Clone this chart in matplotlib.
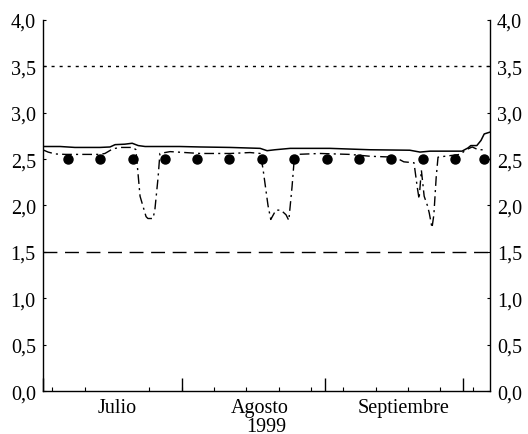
import matplotlib
matplotlib.use("Agg")
import matplotlib.pyplot as plt

plt.rcParams['font.family'] = ['Liberation Serif', 'DejaVu Serif']

# x values: days since 1 July 1999
solid_days = [0.93, 4.7, 7.9, 13.3, 15.5, 16.6, 18.7, 20.3, 21.6, 23.1, 30.6, 35.0,
              41.5, 48.0, 49.5, 51.2, 54.5, 63.1, 71.8, 80.4, 82.6, 84.8, 91.7,
              93.0, 93.6, 94.9, 95.8, 96.5, 97.75]
solid_vals = [2.635, 2.635, 2.625, 2.625, 2.63, 2.655, 2.66, 2.67, 2.645, 2.635, 2.635, 2.63,
              2.625, 2.615, 2.59, 2.60, 2.615, 2.615, 2.60, 2.595, 2.575, 2.585, 2.585,
              2.62, 2.645, 2.645, 2.70, 2.77, 2.79]

dashdot_days = [0.93, 2.1, 3.6, 5.8, 13.3, 14.4, 16.1, 17.7, 20.5, 21.1, 22.0, 23.3, 23.7,
                24.8, 25.2, 25.9, 26.3, 28.5, 35.0, 41.5, 45.8, 48.0, 48.6, 49.7, 50.3,
                51.4, 52.5, 53.6, 54.2, 54.9, 55.3, 55.8, 61.0, 67.4, 71.8, 77.2, 79.1,
                81.3, 82.0, 82.4, 82.9, 83.5, 84.2, 84.6, 85.2, 85.6, 86.1, 86.5, 88.0,
                91.3, 92.6, 93.9, 95.2, 96.3]
dashdot_vals = [2.60, 2.575, 2.555, 2.55, 2.55, 2.56, 2.61, 2.625, 2.625, 2.60, 2.10, 1.88, 1.86,
                1.86, 1.95, 2.30, 2.56, 2.58, 2.56, 2.56, 2.57, 2.56, 2.40, 2.00, 1.85,
                1.95, 1.95, 1.90, 1.84, 2.20, 2.45, 2.55, 2.56, 2.55, 2.53, 2.52, 2.47,
                2.46, 2.20, 2.07, 2.38, 2.10, 2.00, 1.92, 1.76, 1.90, 2.30, 2.52, 2.53,
                2.55, 2.60, 2.63, 2.60, 2.60]

dot_days = [6.5, 13.4, 20.5, 27.4, 34.4, 41.3, 48.3, 55.4, 62.4, 69.3, 76.3, 83.2, 90.2, 96.5]
dot_vals = [2.5, 2.5, 2.5, 2.5, 2.5, 2.5, 2.5, 2.5, 2.5, 2.5, 2.5, 2.5, 2.5, 2.5]

upper_limit = 3.5
lower_limit = 1.5

month_labels = ['Julio', 'Agosto', 'Septiembre']
month_label_days = [17, 48, 79]
month_start_days = [0.93, 31, 62, 92]
week_tick_days = [3, 10, 17, 24, 31, 38, 45, 52, 59, 66, 73, 80, 87, 94]
year_label = '1999'

ytick_vals = [0.0, 0.5, 1.0, 1.5, 2.0, 2.5, 3.0, 3.5, 4.0]
ytick_labels = ['0,0', '0,5', '1,0', '1,5', '2,0', '2,5', '3,0', '3,5', '4,0']

x_range = (0.93, 97.75)
y_range = (0.0, 4.0)

fig = plt.figure(figsize=(5.28, 4.35), dpi=100)
ax = fig.add_axes([0.0809, 0.0982, 0.928 - 0.0809, 0.9524 - 0.0982])

ax.plot(solid_days, solid_vals, color='black', lw=1.1)
ax.plot(dashdot_days, dashdot_vals, color='black', lw=1.0, dashes=(7, 3, 1.5, 3))
ax.plot(dot_days, dot_vals, marker='o', ls='none', color='black', ms=6.5)
ax.axhline(upper_limit, color='black', lw=1.0, dashes=(2.2, 3.6))
ax.axhline(lower_limit, color='black', lw=1.0, dashes=(10, 5.5))

ax.set_xlim(*x_range)
ax.set_ylim(*y_range)

ax.spines['top'].set_visible(False)
for s in ['left', 'right', 'bottom']:
    ax.spines[s].set_linewidth(1.0)
    ax.spines[s].set_color('black')

ax.set_yticks(ytick_vals)
ax.set_yticklabels(ytick_labels)
ax.tick_params(axis='y', direction='in', length=2.5, labelsize=14.5, left=True, right=True,
               labelleft=True, labelright=True, pad=5)

ax.set_xticks(month_label_days)
ax.set_xticklabels(month_labels)
ax.tick_params(axis='x', which='major', length=0, labelsize=14.5, pad=4.5)
ax.set_xticks(week_tick_days, minor=True)
ax.tick_params(axis='x', which='minor', direction='in', length=3, width=0.8)

sec = ax.secondary_xaxis('bottom')
sec.set_xticks(month_start_days)
sec.tick_params(direction='in', length=9.5, width=1.0, labelbottom=False)
sec.spines['bottom'].set_visible(False)

ax.set_xlabel(year_label, fontsize=14.5, labelpad=0)

fig.savefig('out.png', dpi=100, facecolor='white')
